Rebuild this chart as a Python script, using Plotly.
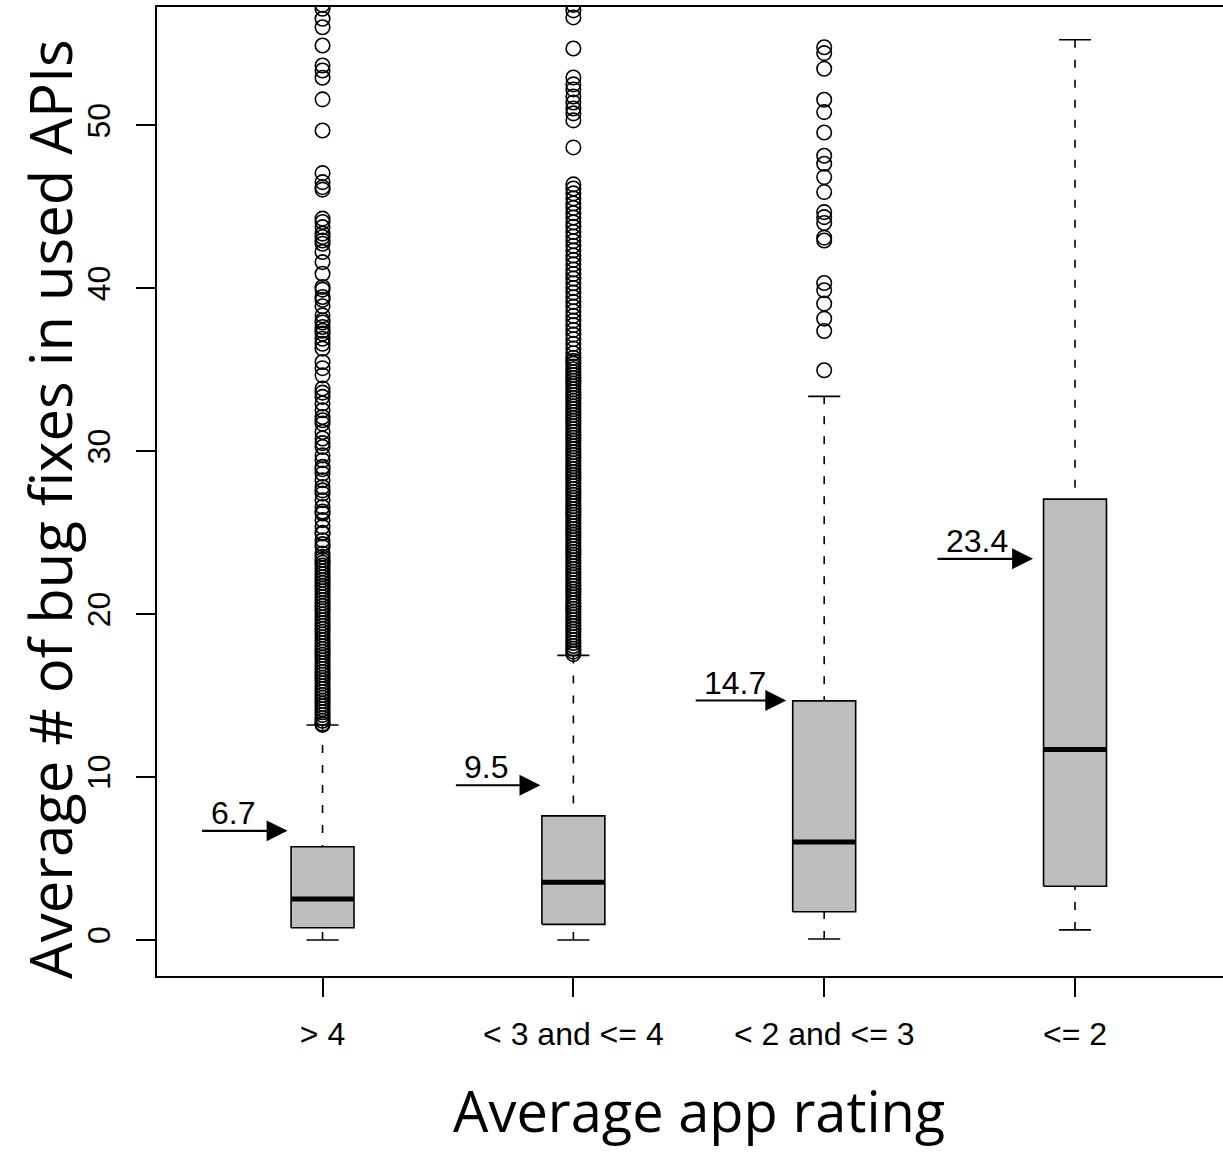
import plotly.graph_objects as go

# ---- data -------------------------------------------------------------
categories = ["> 4", "< 3 and <= 4", "< 2 and <= 3", "<= 2"]

lower_whisker = [0.0, 0.0, 0.06, 0.62]
q1 = [0.75, 0.96, 1.73, 3.30]
median = [2.52, 3.55, 6.02, 11.70]
q3 = [5.72, 7.62, 14.68, 27.06]
upper_whisker = [13.20, 17.47, 33.37, 55.26]

# mean values written next to the arrows
mean_labels = [6.7, 9.5, 14.7, 23.4]

y_ticks = [0, 10, 20, 30, 40, 50]

outliers_gt4 = [
    57.40, 57.16, 56.55, 56.03, 54.91, 53.68, 53.37, 52.93, 51.60, 49.69,
    47.07, 46.52, 46.21, 46.06, 44.28, 44.07, 43.76, 43.36, 43.15, 42.94,
    42.74, 42.23, 41.61, 40.90, 40.08, 39.92, 39.47, 39.30, 38.90, 38.34,
    38.04, 37.90, 37.63, 37.40, 37.22, 36.91, 36.60, 36.30, 35.48, 35.10,
    34.66, 33.85, 33.60, 33.34, 32.93, 32.52, 32.10, 31.90, 31.70, 31.18,
    30.78, 30.50, 30.26, 29.75, 29.45, 29.04, 28.90, 28.63, 28.22, 27.81,
    27.60, 27.40, 26.99, 26.58, 26.30, 26.18, 25.77, 25.36, 25.00, 24.95,
    24.54, 24.30, 24.13, 23.72, 23.52, 23.33, 23.16, 22.98, 22.81, 22.62,
    22.45, 22.27, 22.10, 21.92, 21.74, 21.57, 21.40, 21.21, 21.04, 20.86,
    20.69, 20.51, 20.33, 20.16, 19.98, 19.80, 19.63, 19.45, 19.28, 19.10,
    18.92, 18.75, 18.57, 18.39, 18.22, 18.04, 17.86, 17.69, 17.51, 17.33,
    17.16, 16.98, 16.81, 16.63, 16.45, 16.28, 16.10, 15.92, 15.75, 15.57,
    15.40, 15.22, 15.04, 14.87, 14.69, 14.51, 14.34, 14.16, 13.98, 13.81,
    13.63, 13.46, 13.28, 13.21,
]

outliers_3to4 = [
    57.40, 57.06, 56.63, 54.72, 52.94, 52.52, 52.21, 51.78, 51.41, 51.04,
    50.74, 50.31, 48.65, 46.38, 46.13, 45.83, 45.52, 45.21, 44.93, 44.62,
    44.35, 44.05, 43.78, 43.46, 43.18, 42.90, 42.61, 42.33, 42.02, 41.75,
    41.47, 41.16, 40.88, 40.60, 40.31, 40.02, 39.74, 39.45, 39.17, 38.88,
    38.59, 38.31, 38.02, 37.74, 37.45, 37.16, 36.88, 36.59, 36.31, 36.02,
    35.74, 35.55, 35.38, 35.20, 35.03, 34.85, 34.68, 34.50, 34.33, 34.15,
    33.98, 33.80, 33.63, 33.45, 33.28, 33.10, 32.93, 32.75, 32.58, 32.40,
    32.23, 32.05, 31.88, 31.70, 31.53, 31.35, 31.18, 31.00, 30.83, 30.65,
    30.48, 30.30, 30.13, 29.95, 29.78, 29.60, 29.43, 29.25, 29.08, 28.90,
    28.73, 28.55, 28.38, 28.20, 28.03, 27.85, 27.68, 27.50, 27.33, 27.15,
    26.98, 26.80, 26.63, 26.45, 26.28, 26.10, 25.93, 25.75, 25.58, 25.40,
    25.23, 25.05, 24.88, 24.70, 24.53, 24.35, 24.18, 24.00, 23.83, 23.65,
    23.48, 23.30, 23.13, 22.95, 22.78, 22.60, 22.43, 22.25, 22.08, 21.90,
    21.73, 21.55, 21.38, 21.20, 21.03, 20.85, 20.68, 20.50, 20.33, 20.15,
    19.98, 19.80, 19.63, 19.45, 19.28, 19.10, 18.93, 18.75, 18.58, 18.40,
    18.23, 18.05, 17.88, 17.70, 17.55,
]

outliers_2to3 = [
    54.80, 54.44, 53.48, 51.58, 50.82, 49.57, 48.14, 47.65, 46.83, 45.91,
    44.68, 44.37, 44.01, 43.11, 42.94, 40.33, 39.88, 39.06, 38.14, 37.38,
    34.97,
]

outliers_le2 = []

outliers = [outliers_gt4, outliers_3to4, outliers_2to3, outliers_le2]

# ---- styling ----------------------------------------------------------
BOX_HALF = 0.1255        # half box width in category units
CAP_HALF = 0.064         # half whisker-cap width
BOX_FILL = "#BEBEBE"
TICK_FONT = dict(family="Liberation Sans, Arial, sans-serif", size=32, color="black")
XTITLE_FONT = dict(family="Open Sans, sans-serif", size=56, color="black")
YTITLE_FONT = dict(family="Open Sans, sans-serif", size=58, color="black")
# arrow geometry in pixels (tip offset from category centre, arrow length)
ARROW_TIP_SHIFT = [-35, -33, -38, -42]
ARROW_LEN = [87, 86, 92, 97]

fig = go.Figure()
line_black = dict(color="black", width=1.6)

for i, cat in enumerate(categories):
    p = i + 1
    # box body
    fig.add_trace(go.Scatter(
        x=[p - BOX_HALF, p + BOX_HALF, p + BOX_HALF, p - BOX_HALF, p - BOX_HALF],
        y=[q1[i], q1[i], q3[i], q3[i], q1[i]],
        mode="lines", fill="toself", fillcolor=BOX_FILL,
        line=line_black, hoverinfo="skip"))
    # whiskers (dashed), drawn from the cap toward the box
    for end, edge in ((upper_whisker[i], q3[i]), (lower_whisker[i], q1[i])):
        fig.add_trace(go.Scatter(
            x=[p, p], y=[end, edge], mode="lines",
            line=dict(color="black", width=1.6, dash="8px,12px"),
            hoverinfo="skip"))
        fig.add_trace(go.Scatter(
            x=[p - CAP_HALF, p + CAP_HALF], y=[end, end], mode="lines",
            line=line_black, hoverinfo="skip"))
    # median
    fig.add_trace(go.Scatter(
        x=[p - BOX_HALF, p + BOX_HALF], y=[median[i], median[i]],
        mode="lines", line=dict(color="black", width=5), hoverinfo="skip"))
    # outliers
    if outliers[i]:
        fig.add_trace(go.Scatter(
            x=[p] * len(outliers[i]), y=outliers[i], mode="markers",
            marker=dict(symbol="circle-open", size=14.5, color="black",
                        line=dict(width=1.6)),
            hoverinfo="skip"))

annotations = []
for i, v in enumerate(mean_labels):
    p = i + 1
    annotations.append(dict(
        x=p, y=v, xref="x", yref="y", text="", showarrow=True,
        ax=-ARROW_LEN[i], ay=0, xshift=ARROW_TIP_SHIFT[i],
        arrowhead=2, arrowsize=1.9, arrowwidth=2.2, arrowcolor="black"))
    annotations.append(dict(
        x=p, y=v, xref="x", yref="y", text=f"{v}", showarrow=False,
        xanchor="left", yanchor="bottom",
        xshift=ARROW_TIP_SHIFT[i] - ARROW_LEN[i] + 8, yshift=-2,
        font=TICK_FONT))

# axis titles
annotations.append(dict(
    x=2.5, y=0, xref="x", yref="paper", text="Average app rating",
    showarrow=False, xanchor="center", yanchor="middle", yshift=-134,
    font=XTITLE_FONT))
annotations.append(dict(
    x=0, y=0.482, xref="paper", yref="paper",
    text="Average # of bug fixes in used APIs", textangle=-90,
    showarrow=False, xanchor="center", yanchor="middle", xshift=-107,
    font=YTITLE_FONT))

fig.update_layout(
    width=1223, height=1156,
    margin=dict(l=157, r=0, t=7, b=180, pad=0),
    plot_bgcolor="white", paper_bgcolor="white",
    showlegend=False,
    annotations=annotations,
    xaxis=dict(
        range=[0.34, 4.59], tickvals=[1, 2, 3, 4], ticktext=categories,
        ticks="outside", ticklen=19, tickwidth=1.5, tickcolor="black",
        showline=True, linecolor="black", linewidth=2, mirror=True,
        showgrid=False, zeroline=False, tickfont=TICK_FONT,
        ticklabelstandoff=10),
    yaxis=dict(
        range=[-2.21, 57.27], tickvals=y_ticks, tickangle=-90,
        ticks="outside", ticklen=19, tickwidth=1.5, tickcolor="black",
        showline=True, linecolor="black", linewidth=2, mirror=False,
        showgrid=False, zeroline=False, tickfont=TICK_FONT,
        ticklabelstandoff=13),
)

fig.write_html("out.html")
